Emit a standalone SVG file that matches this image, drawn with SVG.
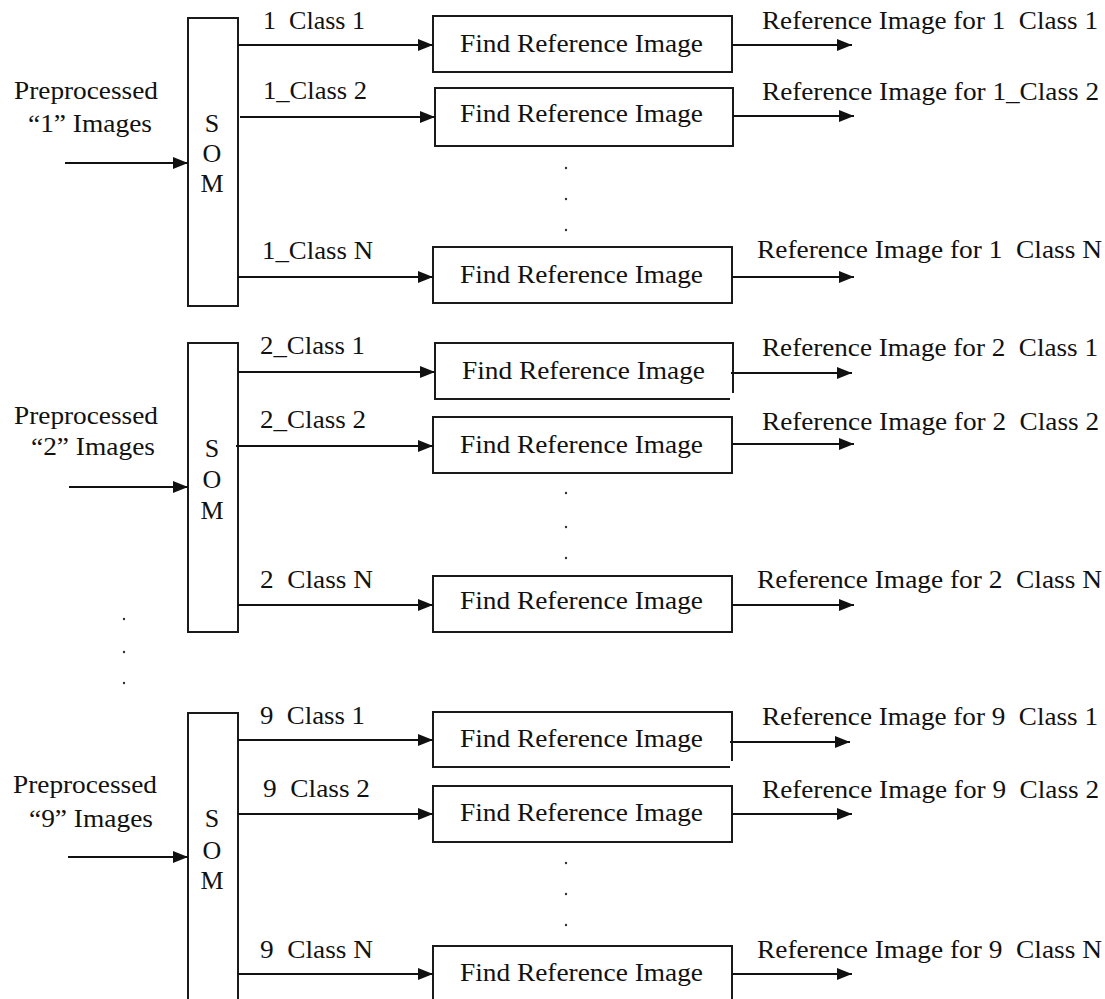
<svg xmlns="http://www.w3.org/2000/svg" width="1105" height="999" viewBox="0 0 1105 999">
<style>
.t{font-family:"Liberation Serif","Times New Roman",serif;font-size:26px;fill:#111;white-space:pre}
.m{text-anchor:middle}
.box{fill:#fff;stroke:#1a1a1a;stroke-width:2}
.edge{fill:none;stroke:#1a1a1a;stroke-width:2}
.c{stroke:#111;stroke-width:2;fill:none;marker-end:url(#ah)}
.dot{fill:#333}
</style>
<defs>
<marker id="ah" markerUnits="userSpaceOnUse" markerWidth="16" markerHeight="13" refX="15" refY="6" orient="auto">
<path d="M0,0 L15,6 L0,12 z" fill="#111"/>
</marker>
</defs>
<rect width="1105" height="999" fill="#fff"/>

<!-- Block 1 -->
<g id="input1">
<text class="t" x="14" y="99" textLength="144" lengthAdjust="spacingAndGlyphs">Preprocessed</text>
<text class="t" x="28" y="132" textLength="124" lengthAdjust="spacingAndGlyphs">“1” Images</text>
</g>
<g id="som1">
<rect class="box" x="188" y="18" width="50" height="288"/>
<text class="t m" x="212" y="132">S</text>
<text class="t m" x="212" y="162">O</text>
<text class="t m" x="212" y="192">M</text>
</g>
<g id="find1a"><rect class="box" x="433" y="16" width="299" height="56"/><text class="t" x="460" y="52" textLength="243" lengthAdjust="spacingAndGlyphs">Find Reference Image</text></g>
<g id="find1b"><rect class="box" x="435" y="88" width="298" height="58"/><text class="t" x="460" y="122" textLength="243" lengthAdjust="spacingAndGlyphs">Find Reference Image</text></g>
<g id="find1n"><rect class="box" x="433" y="247" width="299" height="56"/><text class="t" x="460" y="283" textLength="243" lengthAdjust="spacingAndGlyphs">Find Reference Image</text></g>
<g id="labels1">
<text class="t" xml:space="preserve" x="263" y="29" textLength="102" lengthAdjust="spacingAndGlyphs">1  Class 1</text>
<text class="t" x="263" y="99" textLength="104" lengthAdjust="spacingAndGlyphs">1_Class 2</text>
<text class="t" x="262" y="259" textLength="111" lengthAdjust="spacingAndGlyphs">1_Class N</text>
<text class="t" xml:space="preserve" x="762" y="29" textLength="336" lengthAdjust="spacingAndGlyphs">Reference Image for 1  Class 1</text>
<text class="t" x="762" y="100" textLength="337" lengthAdjust="spacingAndGlyphs">Reference Image for 1_Class 2</text>
<text class="t" xml:space="preserve" x="757" y="258" textLength="345" lengthAdjust="spacingAndGlyphs">Reference Image for 1  Class N</text>
</g>
<g id="dots1"><circle class="dot" cx="566" cy="168" r="1.2"/><circle class="dot" cx="566" cy="199" r="1.2"/><circle class="dot" cx="566" cy="230" r="1.2"/></g>

<!-- Block 2 -->
<g id="input2">
<text class="t" x="14" y="424" textLength="144" lengthAdjust="spacingAndGlyphs">Preprocessed</text>
<text class="t" x="31" y="455" textLength="124" lengthAdjust="spacingAndGlyphs">“2” Images</text>
</g>
<g id="som2">
<rect class="box" x="188" y="343" width="50" height="289"/>
<text class="t m" x="212" y="457">S</text>
<text class="t m" x="212" y="488">O</text>
<text class="t m" x="212" y="519">M</text>
</g>
<g id="find2a"><rect x="435" y="343" width="298" height="56" fill="#fff"/><path class="edge" d="M730,399 H435 V343 H733 V393"/><text class="t" x="462" y="379" textLength="243" lengthAdjust="spacingAndGlyphs">Find Reference Image</text></g>
<g id="find2b"><rect class="box" x="433" y="417" width="299" height="56"/><text class="t" x="460" y="453" textLength="243" lengthAdjust="spacingAndGlyphs">Find Reference Image</text></g>
<g id="find2n"><rect class="box" x="433" y="576" width="299" height="56"/><text class="t" x="460" y="609" textLength="243" lengthAdjust="spacingAndGlyphs">Find Reference Image</text></g>
<g id="labels2">
<text class="t" x="260" y="354" textLength="105" lengthAdjust="spacingAndGlyphs">2_Class 1</text>
<text class="t" x="260" y="428" textLength="106" lengthAdjust="spacingAndGlyphs">2_Class 2</text>
<text class="t" xml:space="preserve" x="260" y="588" textLength="113" lengthAdjust="spacingAndGlyphs">2  Class N</text>
<text class="t" xml:space="preserve" x="762" y="356" textLength="336" lengthAdjust="spacingAndGlyphs">Reference Image for 2  Class 1</text>
<text class="t" xml:space="preserve" x="762" y="430" textLength="337" lengthAdjust="spacingAndGlyphs">Reference Image for 2  Class 2</text>
<text class="t" xml:space="preserve" x="757" y="588" textLength="345" lengthAdjust="spacingAndGlyphs">Reference Image for 2  Class N</text>
</g>
<g id="dots2"><circle class="dot" cx="566" cy="493" r="1.2"/><circle class="dot" cx="566" cy="527" r="1.2"/><circle class="dot" cx="566" cy="558" r="1.2"/></g>
<g id="dotsLeft"><circle class="dot" cx="124" cy="619" r="1.2"/><circle class="dot" cx="124" cy="652" r="1.2"/><circle class="dot" cx="124" cy="683" r="1.2"/></g>

<!-- Block 9 -->
<g id="input9">
<text class="t" x="13" y="793" textLength="144" lengthAdjust="spacingAndGlyphs">Preprocessed</text>
<text class="t" x="29" y="827" textLength="124" lengthAdjust="spacingAndGlyphs">“9” Images</text>
</g>
<g id="som9">
<rect class="box" x="188" y="713" width="50" height="300"/>
<text class="t m" x="212" y="827">S</text>
<text class="t m" x="212" y="859">O</text>
<text class="t m" x="212" y="889">M</text>
</g>
<g id="find9a"><rect x="433" y="712" width="299" height="55" fill="#fff"/><path class="edge" d="M730,767 H433 V712 H732 V761"/><text class="t" x="460" y="747" textLength="243" lengthAdjust="spacingAndGlyphs">Find Reference Image</text></g>
<g id="find9b"><rect class="box" x="433" y="786" width="299" height="56"/><text class="t" x="460" y="821" textLength="243" lengthAdjust="spacingAndGlyphs">Find Reference Image</text></g>
<g id="find9n"><rect class="box" x="433" y="946" width="299" height="60"/><text class="t" x="460" y="981" textLength="243" lengthAdjust="spacingAndGlyphs">Find Reference Image</text></g>
<g id="labels9">
<text class="t" xml:space="preserve" x="260" y="724" textLength="105" lengthAdjust="spacingAndGlyphs">9  Class 1</text>
<text class="t" xml:space="preserve" x="263" y="797" textLength="107" lengthAdjust="spacingAndGlyphs">9  Class 2</text>
<text class="t" xml:space="preserve" x="260" y="958" textLength="113" lengthAdjust="spacingAndGlyphs">9  Class N</text>
<text class="t" xml:space="preserve" x="762" y="725" textLength="336" lengthAdjust="spacingAndGlyphs">Reference Image for 9  Class 1</text>
<text class="t" xml:space="preserve" x="762" y="798" textLength="337" lengthAdjust="spacingAndGlyphs">Reference Image for 9  Class 2</text>
<text class="t" xml:space="preserve" x="757" y="958" textLength="345" lengthAdjust="spacingAndGlyphs">Reference Image for 9  Class N</text>
</g>
<g id="dots9"><circle class="dot" cx="566" cy="863" r="1.2"/><circle class="dot" cx="566" cy="894" r="1.2"/><circle class="dot" cx="566" cy="925" r="1.2"/></g>

<g id="connectors">
<line class="c" x1="65" y1="163" x2="188" y2="163"/>
<line class="c" x1="238" y1="45" x2="433" y2="45"/>
<line class="c" x1="240" y1="117" x2="435" y2="117"/>
<line class="c" x1="238" y1="277" x2="433" y2="277"/>
<line class="c" x1="732" y1="45" x2="852" y2="45"/>
<line class="c" x1="733" y1="116" x2="854" y2="116"/>
<line class="c" x1="732" y1="277" x2="854" y2="277"/>

<line class="c" x1="69" y1="487" x2="188" y2="487"/>
<line class="c" x1="238" y1="372" x2="435" y2="372"/>
<line class="c" x1="236" y1="446" x2="433" y2="446"/>
<line class="c" x1="238" y1="605" x2="433" y2="605"/>
<line class="c" x1="731" y1="373" x2="852" y2="373"/>
<line class="c" x1="732" y1="444" x2="854" y2="444"/>
<line class="c" x1="732" y1="605" x2="854" y2="605"/>

<line class="c" x1="68" y1="857" x2="188" y2="857"/>
<line class="c" x1="238" y1="740" x2="433" y2="740"/>
<line class="c" x1="238" y1="814" x2="433" y2="814"/>
<line class="c" x1="238" y1="974" x2="433" y2="974"/>
<line class="c" x1="730" y1="742" x2="850" y2="742"/>
<line class="c" x1="732" y1="814" x2="852" y2="814"/>
<line class="c" x1="732" y1="974" x2="852" y2="974"/>
</g>
</svg>
